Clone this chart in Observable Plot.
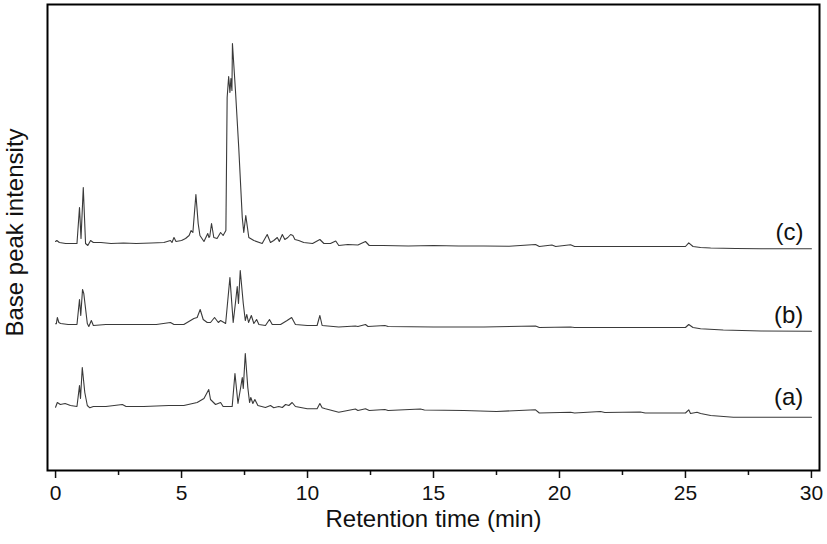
<!DOCTYPE html>
<html>
<head>
<meta charset="utf-8">
<script src="https://cdn.jsdelivr.net/npm/d3@7"></script>
<script src="https://cdn.jsdelivr.net/npm/@observablehq/plot@0.6"></script>
<style>
  html, body { margin: 0; padding: 0; background: #fff; }
  #chart { width: 827px; height: 544px; }
</style>
</head>
<body>
<div id="chart"></div>
<script>
// Retention time (min) and base peak intensity (a.u., relative to each trace's baseline)
const traceA = [
  [0.00,0.3],[0.07,5],[0.19,3],[0.38,4],[0.59,2],[0.85,1],[0.95,22],[0.99,9],[1.06,40],[1.16,15],
  [1.26,2],[1.36,-0.3],[1.5,1],[2.0,1],[2.65,3],[2.8,1],[3.5,1],[4.5,2],[5.09,2],[5.62,5],
  [5.89,9],[6.08,18],[6.15,8],[6.35,3],[6.55,5],[6.65,1],[7.01,1],[7.12,34],[7.24,4],[7.34,19],
  [7.41,30],[7.45,19],[7.53,54],[7.63,20],[7.70,5],[7.75,10],[7.83,4],[7.91,8],[8.03,2],[8.33,0],
  [8.53,2],[8.66,-0.3],[8.86,1],[9.0,0],[9.13,3],[9.26,2],[9.39,5],[9.52,1],[9.99,-1.3],[10.38,-1.3],
  [10.49,4],[10.58,-0.3],[10.71,-1.3],[11.24,-4.7],[11.9,-1.5],[12.0,-3],[12.3,-1.3],[12.45,-3],[13.07,-2],[13.2,-3],
  [14.48,-1.5],[14.64,-2.5],[16.2,-3],[17.5,-4],[19.05,-2.3],[19.2,-5.5],[20.44,-4.7],[20.6,-5.5],[21.63,-4],[21.8,-5],
  [23.21,-4.5],[23.4,-5.5],[25.0,-5.5],[25.13,-2.3],[25.2,-6],[25.46,-4.7],[25.6,-6],[26.0,-8],[26.9,-9.7],[28,-9.7],[30,-9.7]
];
const traceB = [
  [0.00,0.7],[0.03,0.7],[0.07,7],[0.13,2],[0.2,1],[0.5,0],[0.85,0],[0.95,25],[1.00,9],[1.07,35],
  [1.12,31],[1.26,1],[1.32,-2],[1.42,4],[1.5,-1],[2,0],[3,0],[4,0],[4.56,2],[4.7,0],
  [5.09,0],[5.49,6],[5.62,7],[5.74,15],[5.86,5],[6.02,2],[6.15,2],[6.31,7],[6.46,2],[6.55,4],
  [6.75,1],[6.92,47],[7.05,2],[7.15,24],[7.21,38],[7.26,21],[7.33,54],[7.45,21],[7.53,4],[7.59,10],
  [7.66,2],[7.77,9],[7.87,1],[7.98,5],[8.07,0],[8.33,-1],[8.49,5],[8.6,0],[8.93,0],[9.06,2],
  [9.19,4],[9.37,7],[9.52,0],[9.99,-1],[10.38,-1],[10.49,9],[10.58,-1],[11.24,-2.5],[11.9,-1.5],[12.0,-2],
  [12.3,0],[12.4,-2],[13.07,-1],[13.2,-2],[15,-2.5],[17,-2.5],[19.05,-1.5],[19.2,-3],[20.44,-2.5],[20.6,-3],
  [22,-3],[24,-3],[25.0,-3],[25.13,0],[25.3,-3],[25.6,-4.3],[26.5,-5.5],[28,-6.5],[30,-6.7]
];
const traceC = [
  [0.00,2],[0.05,3],[0.15,1],[0.4,0],[0.7,0],[0.85,0],[0.95,36],[1.01,5],[1.10,56],[1.19,0],
  [1.28,-2],[1.39,3],[1.5,1],[1.8,1],[2.2,0],[2.7,0.5],[3.2,0],[3.8,0.5],[4.3,1],[4.56,3],
  [4.62,1],[4.70,6],[4.78,2],[5.0,3],[5.16,5],[5.30,8],[5.38,13],[5.45,11],[5.57,49],[5.66,20],
  [5.73,8],[5.89,2],[6.04,10],[6.09,6],[6.12,7],[6.19,20],[6.28,6],[6.41,5],[6.55,11],[6.65,8],
  [6.76,13],[6.81,146],[6.87,167],[6.92,151],[6.96,165],[7.00,153],[7.02,200],[7.14,153],[7.27,96],[7.41,26],
  [7.47,11],[7.55,28],[7.67,6],[7.87,3],[8.2,0],[8.4,9],[8.53,1],[8.66,3],[8.8,6],[8.88,2],
  [9.0,9],[9.1,4],[9.22,6],[9.33,9],[9.42,8],[9.5,4],[9.65,3],[9.85,1],[10.2,0],[10.49,4],
  [10.65,0],[10.91,0],[11.12,2.5],[11.24,-2],[11.6,-1],[12.0,-1.5],[12.3,2],[12.45,-2],[13,-2],[14,-2.5],
  [15,-2],[16,-2.5],[17,-2.5],[18,-2.8],[19.05,-1],[19.2,-3],[19.7,-1.5],[19.85,-3],[20.44,-1.3],[20.6,-3],
  [22,-3],[23.5,-3],[24.5,-3],[25.0,-3],[25.13,0.7],[25.3,-3],[25.6,-4],[26,-4.5],[27,-5],[28,-5.3],[29,-5.3],[30,-5.3]
];

const seriesNames = ["(a)", "(b)", "(c)"];
const seriesOffsets = [63, 146, 227];
const seriesTraces = [traceA, traceB, traceC];
const labelTime = [29.68, 29.68, 29.68];
const labelRise = [10, 9, 11];

const majorTicks = [0, 5, 10, 15, 20, 25, 30];
const minorTicks = [2.5, 7.5, 12.5, 17.5, 22.5, 27.5];

const rows = seriesTraces.flatMap((tr, k) =>
  tr.map(([t, v]) => ({series: seriesNames[k], t, y: v + seriesOffsets[k]})));
const labelRows = seriesNames.map((n, k) => ({name: n, t: labelTime[k], y: seriesOffsets[k] + labelRise[k]}));

const font = "'Liberation Sans', Arial, Helvetica, sans-serif";

const chart = Plot.plot({
  width: 827,
  height: 544,
  marginLeft: 47,
  marginRight: 8,
  marginTop: 4,
  marginBottom: 74,
  style: {fontFamily: font, fontSize: "21px", color: "#111", background: "#fff"},
  x: {domain: [-0.32, 30.32]},
  y: {domain: [0, 466], axis: null},
  marks: [
    Plot.line(rows, {x: "t", y: "y", z: "series", stroke: "#3a3a3a", strokeWidth: 1.1}),
    Plot.text(labelRows, {x: "t", y: "y", text: "name", textAnchor: "end", fontSize: 24, fill: "#111"}),
    Plot.axisX({ticks: majorTicks, tickSize: 8, tickPadding: 7, tickFormat: d => String(d), fontSize: 21, strokeWidth: 1.5, label: null}),
    Plot.axisX({ticks: minorTicks, tickSize: 5, tickFormat: () => "", strokeWidth: 1.5, label: null}),
    Plot.frame({stroke: "#000", strokeWidth: 2}),
    Plot.text(["Retention time (min)"], {frameAnchor: "bottom", dy: 56, fontSize: 24, fill: "#111"}),
    Plot.text(["Base peak intensity"], {frameAnchor: "left", textAnchor: "middle", dx: -32, dy: -5, rotate: -90, fontSize: 24, fill: "#111"})
  ]
});
document.getElementById("chart").appendChild(chart);
</script>
</body>
</html>
